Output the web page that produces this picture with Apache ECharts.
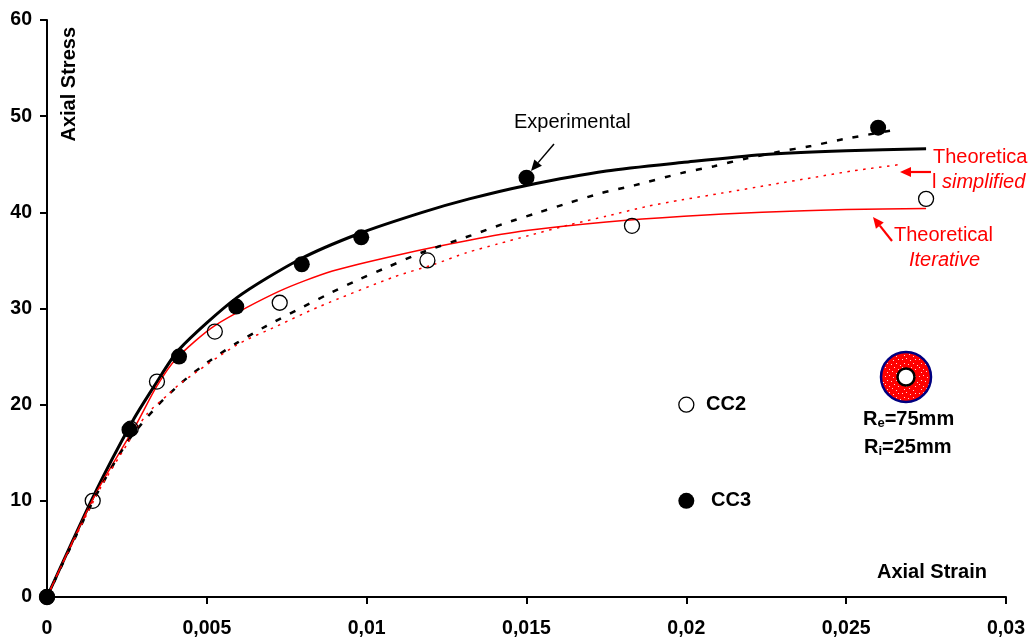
<!DOCTYPE html>
<html><head><meta charset="utf-8">
<style>html,body{margin:0;padding:0;background:#fff}#c{width:1031px;height:640px}</style>
<script src="https://cdn.jsdelivr.net/npm/echarts@6/dist/echarts.min.js"></script>
</head><body><div id="c"></div>
<script>
const expSolid=[[0,0],[.0015,10.8],[.00268,18.3],[.00337,22.0],[.00412,25.7],[.00593,31.1],[.0079,35.1],[.00977,37.8],[.01174,40.0],[.01321,41.4],[.015,42.8],[.0175,44.3],[.01993,45.2],[.02237,46.0],[.025,46.4],[.0275,46.6]];
const iterativeSolid=[[0,0],[.0015,10.6],[.0028,18.0],[.00343,21.9],[.00405,24.8],[.00524,28.2],[.00727,31.8],[.00893,33.9],[.01102,35.6],[.01321,37.1],[.015,38.1],[.0175,39.0],[.01993,39.6],[.02237,40.0],[.025,40.3],[.0275,40.4]];
const blackDashed=[[0,0],[.00143,9.9],[.00249,16.0],[.00343,19.8],[.00421,22.3],[.00502,24.4],[.00593,26.4],[.00687,28.2],[.0078,29.8],[.00874,31.4],[.00968,32.9],[.01065,34.3],[.01171,35.8],[.01327,37.6],[.01427,38.8],[.0153,39.9],[.01634,41.0],[.01734,42.0],[.01837,42.8],[.01987,44.1],[.02087,44.8],[.02187,45.6],[.0229,46.3],[.0239,46.9],[.0249,47.6],[.0264,48.5]];
const simplifiedDotted=[[0,0],[.00062,4.4],[.00165,11.2],[.00249,15.8],[.00312,19.0],[.00377,21.0],[.00421,22.3],[.00593,26.2],[.00721,28.2],[.00852,30.2],[.01087,33.3],[.01212,34.6],[.01312,35.8],[.01409,36.7],[.01509,37.6],[.01634,38.7],[.0175,39.6],[.01875,40.6],[.01987,41.3],[.02112,42.0],[.02269,42.9],[.02394,43.6],[.02519,44.3],[.02675,45.0]];
const cc2=[[0,0],[.00143,10],[.00262,17.5],[.00344,22.4],[.00525,27.6],[.00728,30.6],[.0119,35],[.0183,38.6],[.0275,41.4],[.02,20]];
const cc3=[[0,0],[.00258,17.4],[.00413,25],[.00592,30.2],[.00797,34.6],[.00983,37.4],[.015,43.6],[.026,48.8],[.02,10]];

const FONT='"Liberation Sans", Arial, sans-serif';
const RED='#ff0000';
function txt(x,y,t,o){return {type:'text',x:x,y:y,z:20,style:Object.assign({text:t,font:'20px '+FONT,fill:'#000',verticalAlign:'middle'},o||{})};}
function arrow(x1,y1,x2,y2,col,w,len,hw){
  const a=Math.atan2(y2-y1,x2-x1),c=Math.cos(a),s=Math.sin(a);
  const bx=x2-len*c,by=y2-len*s;
  return [{type:'line',z:20,shape:{x1:x1,y1:y1,x2:bx,y2:by},style:{stroke:col,lineWidth:w}},
  {type:'polygon',z:20,shape:{points:[[x2,y2],[bx-hw*s,by+hw*c],[bx+hw*s,by-hw*c]]},style:{fill:col}}];
}
const pc=document.createElement('canvas');pc.width=pc.height=17;
const pctx=pc.getContext('2d');pctx.fillStyle='#ff0000';pctx.fillRect(0,0,17,17);pctx.fillStyle='#ffd8d8';
[[1,2],[5,1],[9,3],[14,2],[3,6],[7,7],[12,6],[16,8],[1,10],[5,12],[10,10],[14,12],[3,15],[8,14],[12,16]].forEach(p=>pctx.fillRect(p[0],p[1],1,1));
const rich={a:{font:'bold 20px '+FONT,fill:'#000'},s:{font:'bold 13px '+FONT,fill:'#000',verticalAlign:'bottom',padding:[8,0,0,0]}};

const gfx=[].concat(
 [txt(514,122,'Experimental'),
  txt(933,157,'Theoretica',{fill:RED}),
  txt(932,182,'l ',{fill:RED}),
  txt(942,182,'simplified',{fill:RED,font:'italic 20px '+FONT}),
  txt(894,235,'Theoretical',{fill:RED}),
  txt(909,260,'Iterative',{fill:RED,font:'italic 20px '+FONT}),
  txt(706,404,'CC2',{font:'bold 20px '+FONT}),
  txt(711,500,'CC3',{font:'bold 20px '+FONT}),
  {type:'circle',z:18,shape:{cx:906,cy:377,r:25},style:{fill:{image:pc,repeat:'repeat'},stroke:'#000080',lineWidth:2.5}},
  {type:'circle',z:19,shape:{cx:906,cy:377,r:8.5},style:{fill:'#fff',stroke:'#000',lineWidth:2.5}},
  {type:'text',x:863,y:419,z:20,style:{text:'{a|R}{s|e}{a|=75mm}',verticalAlign:'middle',rich:rich}},
  {type:'text',x:864,y:447,z:20,style:{text:'{a|R}{s|i}{a|=25mm}',verticalAlign:'middle',rich:rich}}
 ],
 arrow(554,144,531,171,'#000',1.5,11,5),
 arrow(931,172,900,172,RED,2.2,11,5),
 arrow(892,241,873,217,RED,2.2,11,5)
);
const axisLine={show:true,onZero:false,lineStyle:{color:'#000',width:2}};
const chart=echarts.init(document.getElementById('c'),null,{renderer:'canvas'});
chart.setOption({
 animation:false,
 backgroundColor:'#fff',
 grid:{left:47,right:25,top:20,bottom:43},
 xAxis:{type:'value',min:0,max:.03,interval:.005,
  name:'Axial Strain',nameLocation:'end',nameGap:-19,
  nameTextStyle:{fontFamily:FONT,fontWeight:'bold',fontSize:20,color:'#000',align:'right',verticalAlign:'bottom',padding:[0,0,15,0]},
  axisLine:axisLine,axisTick:{show:true,inside:false,length:7,lineStyle:{color:'#000',width:2}},splitLine:{show:false},
  axisLabel:{color:'#000',fontFamily:FONT,fontWeight:'bold',fontSize:19.5,margin:22,formatter:v=>String(v).replace('.',','),showMinLabel:true,showMaxLabel:true,hideOverlap:false}},
 yAxis:{type:'value',min:0,max:60,interval:10,
  name:'Axial Stress',nameLocation:'end',nameRotate:90,nameGap:-7,
  nameTextStyle:{fontFamily:FONT,fontWeight:'bold',fontSize:20,color:'#000',align:'right',verticalAlign:'top',padding:[12,0,0,0]},
  axisLine:axisLine,axisTick:{show:true,inside:false,length:7,lineStyle:{color:'#000',width:2}},splitLine:{show:false},
  axisLabel:{color:'#000',fontFamily:FONT,fontWeight:'bold',fontSize:19.5,margin:15,showMinLabel:true,showMaxLabel:true}},
 graphic:gfx,
 series:[
  {name:'Experimental',type:'line',data:expSolid,symbol:'none',smooth:.25,lineStyle:{color:'#000',width:3},z:3},
  {name:'Theoretical Iterative',type:'line',data:iterativeSolid,symbol:'none',smooth:.25,lineStyle:{color:RED,width:1.5},z:3},
  {name:'Simplified (black)',type:'line',data:blackDashed,symbol:'none',smooth:.25,lineStyle:{color:'#000',width:2.5,type:[6,10]},z:3},
  {name:'Theoretical simplified',type:'line',data:simplifiedDotted,symbol:'none',smooth:.25,lineStyle:{color:RED,width:1.5,type:[2.5,5.5]},z:3},
  {name:'CC2',type:'scatter',data:cc2,symbol:'circle',symbolSize:15,clip:false,itemStyle:{color:'transparent',borderColor:'#000',borderWidth:1.3,opacity:1},z:4},
  {name:'CC3',type:'scatter',data:cc3,symbol:'circle',symbolSize:16,clip:false,itemStyle:{color:'#000',opacity:1},z:5}
 ]
});
</script></body></html>
